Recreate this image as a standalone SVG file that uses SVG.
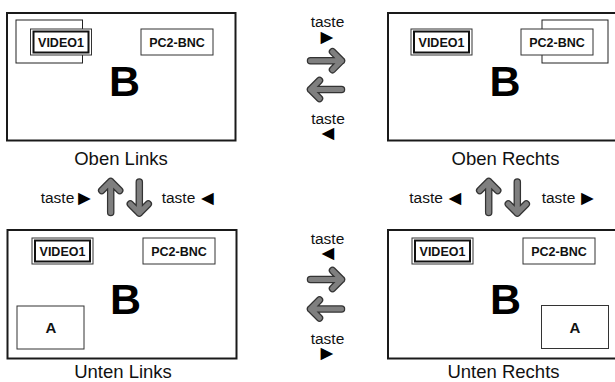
<svg xmlns="http://www.w3.org/2000/svg" xmlns:xlink="http://www.w3.org/1999/xlink" width="615" height="382" viewBox="0 0 615 382">
<style>
.scr{fill:#fff;stroke:#1a1a1a;stroke-width:2}
.win{fill:none;stroke:#222;stroke-width:1}
.box{fill:#fff;stroke:#333;stroke-width:1}
.act{fill:none;stroke:#111;stroke-width:2}
.bt{font-family:"Liberation Sans",Arial,sans-serif;font-weight:bold;font-size:12.5px;fill:#111;text-anchor:middle}
.big{font-family:"Liberation Sans",Arial,sans-serif;font-weight:bold;font-size:43px;fill:#000;text-anchor:middle}
.at{font-family:"Liberation Sans",Arial,sans-serif;font-weight:bold;font-size:15px;fill:#111;text-anchor:middle}
.lbl{font-family:"Liberation Sans",Arial,sans-serif;font-size:18.5px;fill:#111;text-anchor:middle}
.key{font-family:"Liberation Sans",Arial,sans-serif;font-size:15.5px;fill:#111}
.tri{font-size:21px;fill:#000;text-anchor:middle}
.ao{fill:none;stroke:#333;stroke-width:7.5;stroke-linecap:round;stroke-linejoin:round}
.ai{fill:none;stroke:#7f7f7f;stroke-width:5;stroke-linecap:round;stroke-linejoin:round}
</style>
<defs>
<g id="arr">
<path class="ao" d="M-15.5,0 H15.5 M6.5,-9 L15.5,0 L6.5,9"/>
<path class="ai" d="M-15.5,0 H15.5 M6.5,-9 L15.5,0 L6.5,9"/>
</g>
</defs>

<g id="oben-links">
<rect class="scr" x="7" y="13" width="228.5" height="127.5"/>
<rect class="win" x="16" y="20" width="66.5" height="43"/>
<rect class="box" x="30.5" y="29" width="61" height="26"/>
<rect class="act" x="33.5" y="31.5" width="55" height="21"/>
<text class="bt" x="61" y="46.5">VIDEO1</text>
<rect class="box" x="141" y="29" width="72" height="26"/>
<text class="bt" x="177" y="46.5">PC2-BNC</text>
<text class="big" x="124.5" y="96">B</text>
<text class="lbl" x="121" y="164.5">Oben Links</text>
</g>

<g id="oben-rechts">
<rect class="scr" x="388" y="13" width="229" height="127.5"/>
<rect class="win" x="542" y="20" width="66" height="43"/>
<rect class="box" x="411" y="29" width="61" height="26"/>
<rect class="act" x="414" y="31.5" width="55" height="21"/>
<text class="bt" x="441.5" y="46.5">VIDEO1</text>
<rect class="box" x="521" y="29" width="72" height="26"/>
<text class="bt" x="557" y="46.5">PC2-BNC</text>
<text class="big" x="505" y="96">B</text>
<text class="lbl" x="505.5" y="164.5">Oben Rechts</text>
</g>

<g id="unten-links">
<rect class="scr" x="7.5" y="230" width="229" height="128.5"/>
<rect class="box" x="32" y="238" width="61" height="26"/>
<rect class="act" x="35" y="240.5" width="55" height="21"/>
<text class="bt" x="62.5" y="255.5">VIDEO1</text>
<rect class="box" x="143" y="238" width="72" height="26"/>
<text class="bt" x="179" y="255.5">PC2-BNC</text>
<rect class="box" x="17" y="306" width="67" height="43"/>
<text class="at" x="51" y="333">A</text>
<text class="big" x="125.5" y="314">B</text>
<text class="lbl" x="123" y="378">Unten Links</text>
</g>

<g id="unten-rechts">
<rect class="scr" x="388" y="230" width="229" height="128.5"/>
<rect class="box" x="412" y="238" width="61" height="26"/>
<rect class="act" x="415" y="240.5" width="55" height="21"/>
<text class="bt" x="442.5" y="255.5">VIDEO1</text>
<rect class="box" x="523" y="238" width="72" height="26"/>
<text class="bt" x="559" y="255.5">PC2-BNC</text>
<rect class="box" x="541.5" y="305.5" width="67" height="43"/>
<text class="at" x="575" y="333">A</text>
<text class="big" x="505.5" y="314">B</text>
<text class="lbl" x="503.5" y="378">Unten Rechts</text>
</g>

<g id="connectors">
<use xlink:href="#arr" transform="translate(326,60.7)"/>
<use xlink:href="#arr" transform="translate(326,89.5) rotate(180)"/>
<use xlink:href="#arr" transform="translate(326,279.5)"/>
<use xlink:href="#arr" transform="translate(326,309) rotate(180)"/>
<use xlink:href="#arr" transform="translate(110.7,197) rotate(-90)"/>
<use xlink:href="#arr" transform="translate(139.3,197.5) rotate(90)"/>
<use xlink:href="#arr" transform="translate(488.7,197) rotate(-90)"/>
<use xlink:href="#arr" transform="translate(517.3,197.5) rotate(90)"/>
</g>

<g id="labels">
<text class="key" text-anchor="middle"><tspan x="327.5" y="27">taste</tspan><tspan class="tri" x="327" y="43.5">►</tspan></text>
<text class="key" text-anchor="middle"><tspan x="328" y="124">taste</tspan><tspan class="tri" x="328" y="140">◄</tspan></text>
<text class="key" text-anchor="middle"><tspan x="327.5" y="243.5">taste</tspan><tspan class="tri" x="328" y="260">◄</tspan></text>
<text class="key" text-anchor="middle"><tspan x="327.5" y="343.5">taste</tspan><tspan class="tri" x="327" y="360">►</tspan></text>
<text class="key" x="40.7" y="203.3">taste<tspan class="tri" x="84.3" y="204.5">►</tspan></text>
<text class="key" x="161.7" y="203.3">taste<tspan class="tri" x="207.3" y="204.5">◄</tspan></text>
<text class="key" x="409.3" y="203.3">taste<tspan class="tri" x="455" y="204.5">◄</tspan></text>
<text class="key" x="541.7" y="203.3">taste<tspan class="tri" x="587.3" y="204.5">►</tspan></text>
</g>
</svg>
